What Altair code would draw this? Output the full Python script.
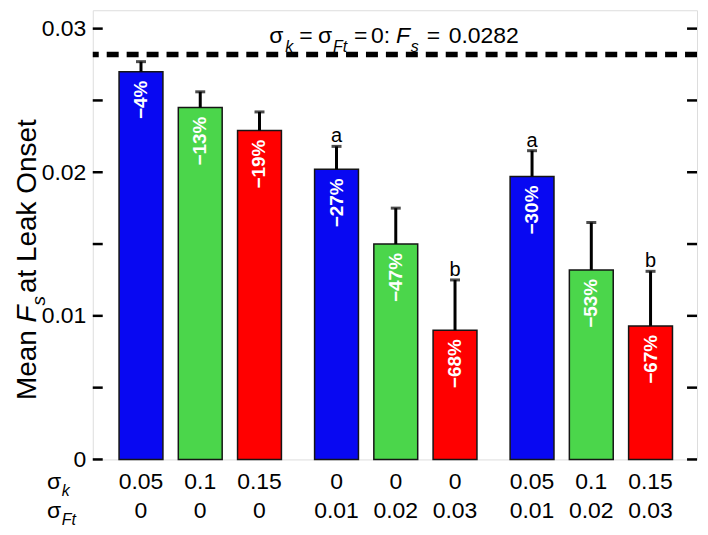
import altair as alt
import pandas as pd

# ---------------- data ----------------
positions = [1, 2, 3, 4.3, 5.3, 6.3, 7.6, 8.6, 9.6]
sigma_k = ["0.05", "0.1", "0.15", "0", "0", "0", "0.05", "0.1", "0.15"]
sigma_ft = ["0", "0", "0", "0.01", "0.02", "0.03", "0.01", "0.02", "0.03"]
mean_fs = [0.0270, 0.0245, 0.0229, 0.0202, 0.0150, 0.0090, 0.0197, 0.0132, 0.0093]
err_top = [0.0277, 0.0256, 0.0242, 0.0218, 0.0175, 0.0125, 0.0215, 0.0165, 0.0131]
pct_labels = ["\u22124%", "\u221213%", "\u221219%", "\u221227%", "\u221247%",
              "\u221268%", "\u221230%", "\u221253%", "\u221267%"]
sig_letters = ["", "", "", "a", "", "b", "a", "", "b"]
bar_colors = ["#0808f2", "#4bd64b", "#ff0000"] * 3
baseline_fs = [0.0282]
y_tick_values = [0, 0.005, 0.01, 0.015, 0.02, 0.025, 0.03]
y_label_values = [0, 0.01, 0.02, 0.03]

# ---------------- layout ----------------
W, H = 606, 450.5
PAD_L, PAD_T = 85, 1.5
FONT = "Liberation Sans"
X_DOMAIN = [0.27, 10.30]
Y_DOMAIN = [0, 0.03128]

df = pd.DataFrame({
    "pos": positions, "sk": sigma_k, "sft": sigma_ft, "mean": mean_fs,
    "err": err_top, "pct": pct_labels, "sig": sig_letters, "color": bar_colors,
})

xenc = alt.X("pos:Q", scale=alt.Scale(domain=X_DOMAIN, nice=False, zero=False), axis=None)
yscale = alt.Scale(domain=Y_DOMAIN, nice=False, zero=True)

base = alt.Chart(df)

bars = base.mark_bar(size=44, stroke="#151515", strokeWidth=1.5).encode(
    x=xenc,
    y=alt.Y("mean:Q", scale=yscale, axis=alt.Axis(
        values=y_label_values, ticks=False, tickSize=0, domain=False, grid=False,
        title=None, labelFontSize=23, labelFont=FONT, labelColor="black",
        labelPadding=7,
        labelExpr="datum.value == 0 ? '0' : format(datum.value, '.2f')")),
    color=alt.Color("color:N", scale=None),
)

err_line = base.mark_rule(strokeWidth=3, color="black").encode(
    x=xenc, y=alt.Y("mean:Q", scale=yscale), y2="err:Q")
err_cap = base.mark_tick(orient="horizontal", size=10, thickness=3, color="black").encode(
    x=xenc, y=alt.Y("err:Q", scale=yscale))

pct = base.mark_text(angle=270, align="right", baseline="middle", dx=-9,
                     fontWeight="bold", fontSize=19, font=FONT, color="white").encode(
    x=xenc, y=alt.Y("mean:Q", scale=yscale), text="pct:N")

letters = base.mark_text(baseline="alphabetic", align="center", dy=-4,
                         fontSize=20, font=FONT, color="black").encode(
    x=xenc, y=alt.Y("err:Q", scale=yscale), text="sig:N")

xlab1 = base.mark_text(baseline="alphabetic", align="center", fontSize=23,
                       font=FONT, color="black").encode(
    x=xenc, y=alt.value(480.5), text="sk:N")
xlab2 = base.mark_text(baseline="alphabetic", align="center", fontSize=23,
                       font=FONT, color="black").encode(
    x=xenc, y=alt.value(509.5), text="sft:N")

dash = alt.Chart(pd.DataFrame({"v": baseline_fs})).mark_rule(
    strokeDash=[12, 8], strokeWidth=5.5, color="black").encode(
    y=alt.Y("v:Q", scale=yscale))

ticks_df = pd.DataFrame({"v": y_tick_values})
tick_left = alt.Chart(ticks_df).mark_rule(strokeWidth=2.5, color="black").encode(
    x=alt.value(0), x2=alt.value(10), y=alt.Y("v:Q", scale=yscale))
tick_right = alt.Chart(ticks_df).mark_rule(strokeWidth=2.5, color="black").encode(
    x=alt.value(W - 10), x2=alt.value(W), y=alt.Y("v:Q", scale=yscale))


def seg(text, px, py, size, italic=False, angle=0, align="left"):
    kw = dict(align=align, baseline="alphabetic", fontSize=size, font=FONT, color="black")
    if italic:
        kw["fontStyle"] = "italic"
    if angle:
        kw["angle"] = angle
    return alt.Chart(pd.DataFrame({"t": [text]})).mark_text(**kw).encode(
        x=alt.value(px), y=alt.value(py), text="t:N")


# widths (Arial metrics, per 1000 em)
CW = {' ': 278, 'M': 833, 'e': 556, 'a': 556, 'n': 556, 'F': 611, 's': 500,
      't': 278, 'L': 556, 'k': 500, 'O': 778}


def tw(s, size):
    return sum(CW[c] for c in s) * size / 1000.0


# rotated y title: "Mean F_s at Leak Onset"
TS, SS = 28, 19
ty0 = 391
tx = -57
t1 = ty0
t2 = t1 - tw("Mean ", TS)
t3 = t2 - tw("F", TS)
t4 = t3 - tw("s", SS) - 3
title_parts = [
    seg("Mean ", tx, t1, TS, angle=270),
    seg("F", tx, t2, TS, italic=True, angle=270),
    seg("s", tx + 9, t3, SS, italic=True, angle=270),
    seg(" at Leak Onset", tx, t4, TS, angle=270),
]

# row labels sigma_k, sigma_Ft
row_parts = [
    seg("\u03c3", -46, 480.5, 23),
    seg("k", -31, 487.5, 16, italic=True),
    seg("\u03c3", -46, 509.5, 23),
    seg("Ft", -31, 516.5, 16, italic=True),
]

# annotation: sigma_k = sigma_Ft = 0: F_s = 0.0282
ox, oy = 93, 9.5
mb, sb = 42 - oy, 51 - oy
ann_parts = [
    seg("\u03c3", 270 - ox, mb, 23),
    seg("k", 286 - ox, sb, 16, italic=True),
    seg("=", 300 - ox, mb, 23),
    seg("\u03c3", 319 - ox, mb, 23),
    seg("Ft", 334 - ox, sb, 16, italic=True),
    seg("=", 355 - ox, mb, 23),
    seg("0:", 372 - ox, mb, 23),
    seg("F", 397 - ox, mb, 23, italic=True),
    seg("s", 412 - ox, sb, 16, italic=True),
    seg("=", 428 - ox, mb, 23),
    seg("0.0282", 450 - ox, mb, 23),
]

chart = alt.layer(
    bars, err_line, err_cap, pct, letters, dash, tick_left, tick_right,
    xlab1, xlab2, *title_parts, *row_parts, *ann_parts
).properties(
    width=W, height=H,
    autosize=alt.AutoSizeParams(type="none"),
    padding={"left": PAD_L, "top": PAD_T, "right": 3, "bottom": 70},
).configure_view(
    stroke="black", strokeWidth=2.5
).configure(background="white")

chart.save("out.html", embed_options={"renderer": "svg", "actions": False})
